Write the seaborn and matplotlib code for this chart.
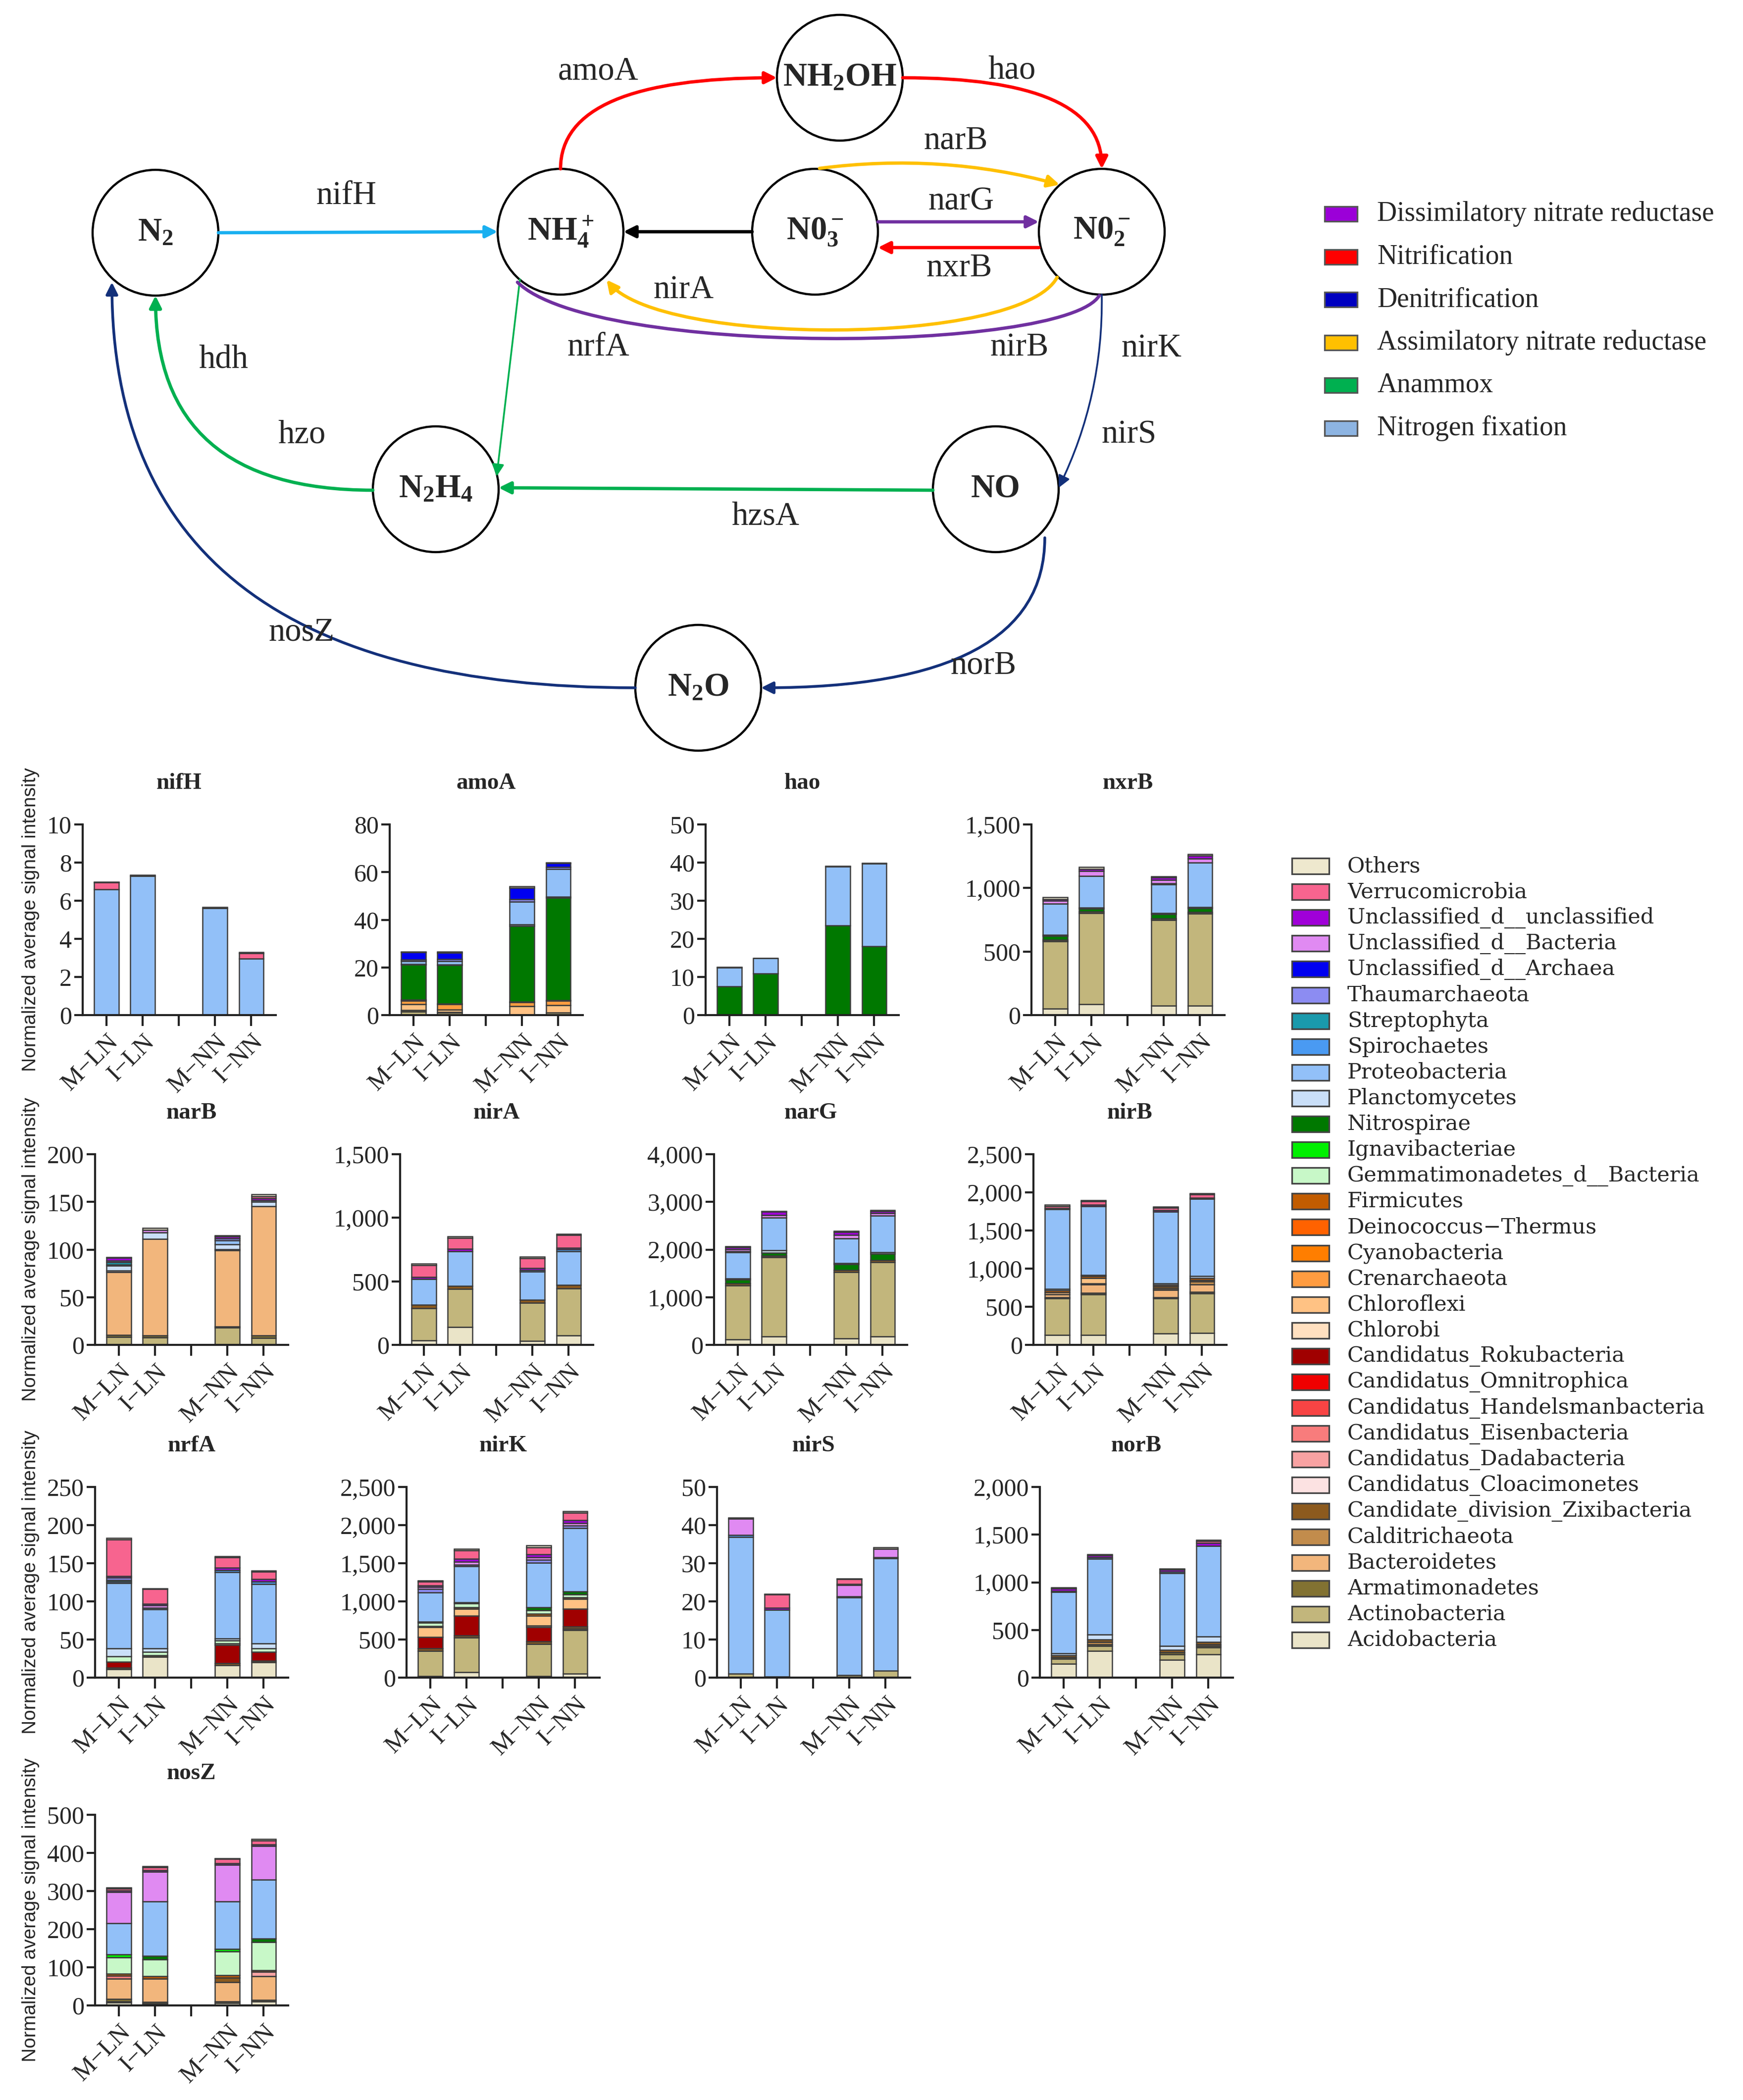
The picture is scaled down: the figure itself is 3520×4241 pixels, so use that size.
import pandas as pd
import matplotlib
matplotlib.use('Agg')
import matplotlib.pyplot as plt
import seaborn as sns
from matplotlib.patches import Circle, FancyArrowPatch, Rectangle
from matplotlib.path import Path
from matplotlib.ticker import FuncFormatter, MultipleLocator

# sample groups, the empty slot is the gap between LN and NN
groups = ['M\u2212LN', 'I\u2212LN', '', 'M\u2212NN', 'I\u2212NN']
group_pos = [0, 1, 3, 4]

# phyla in legend order (first = top of the stack)
phyla = ['Others', 'Verrucomicrobia', 'Unclassified_d__unclassified', 'Unclassified_d__Bacteria',
         'Unclassified_d__Archaea', 'Thaumarchaeota', 'Streptophyta', 'Spirochaetes', 'Proteobacteria',
         'Planctomycetes', 'Nitrospirae', 'Ignavibacteriae', 'Gemmatimonadetes_d__Bacteria', 'Firmicutes',
         'Deinococcus\u2212Thermus', 'Cyanobacteria', 'Crenarchaeota', 'Chloroflexi', 'Chlorobi',
         'Candidatus_Rokubacteria', 'Candidatus_Omnitrophica', 'Candidatus_Handelsmanbacteria',
         'Candidatus_Eisenbacteria', 'Candidatus_Dadabacteria', 'Candidatus_Cloacimonetes',
         'Candidate_division_Zixibacteria', 'Calditrichaeota', 'Bacteroidetes', 'Armatimonadetes',
         'Actinobacteria', 'Acidobacteria']
phylum_colors = ['#EEE8CE', '#F7648F', '#A000D8', '#E08AF2', '#0000F0', '#8C8CF2', '#1A9AAC', '#4A9AF2',
                 '#92C0F8', '#CADFF8', '#007800', '#00F000', '#C8F8C8', '#C25C00', '#FF6200', '#FF7E00',
                 '#FF9C40', '#FFC284', '#FFE0C0', '#A00000', '#F00000', '#F84444', '#F87C7C', '#F8A2A2',
                 '#FCE2E2', '#8C5A1E', '#C28C4C', '#F2B67C', '#827232', '#C2B67C', '#EAE4C8']

pathways = ['Dissimilatory nitrate reductase', 'Nitrification', 'Denitrification',
            'Assimilatory nitrate reductase', 'Anammox', 'Nitrogen fixation']
pathway_colors = ['#9B00D8', '#FF0000', '#0000C0', '#FFC000', '#00B050', '#8DB4E2']

# values per phylum: M-LN, I-LN, M-NN, I-NN
nifH = {'Proteobacteria': [6.6, 7.3, 5.6, 2.95], 'Verrucomicrobia': [0.35, 0, 0, 0.3],
        'Others': [0.05, 0.05, 0.05, 0.05]}
amoA = {'Actinobacteria': [1.5, 1.0, 0, 1.0], 'Armatimonadetes': [0.5, 0.3, 0, 0],
        'Chloroflexi': [2.5, 1.0, 3.8, 3.2], 'Crenarchaeota': [1.5, 2.2, 1.5, 1.8],
        'Firmicutes': [0.4, 0.3, 0.3, 0.2], 'Nitrospirae': [14.8, 16.1, 31.9, 43.1],
        'Planctomycetes': [0.3, 0.3, 0.5, 0.4], 'Proteobacteria': [1.2, 1.5, 9.5, 11.5],
        'Thaumarchaeota': [0.6, 0.7, 1.2, 0.9], 'Unclassified_d__Archaea': [3.0, 2.8, 4.8, 1.6],
        'Others': [0.2, 0.3, 0.5, 0.3]}
hao = {'Nitrospirae': [7.5, 10.9, 23.5, 18.0], 'Proteobacteria': [5.0, 4.0, 15.4, 21.7],
       'Others': [0.1, 0.1, 0.2, 0.2]}
nxrB = {'Acidobacteria': [50, 87, 73, 73], 'Actinobacteria': [530, 716, 674, 725],
        'Armatimonadetes': [12, 10, 12, 12], 'Nitrospirae': [30, 25, 35, 30],
        'Planctomycetes': [8, 8, 10, 10], 'Proteobacteria': [245, 247, 225, 350],
        'Streptophyta': [0, 0, 8, 0], 'Unclassified_d__Bacteria': [25, 40, 25, 30],
        'Unclassified_d__unclassified': [12, 18, 20, 25], 'Others': [16, 15, 10, 10]}
narB = {'Actinobacteria': [8.5, 8.0, 18.2, 7.4], 'Armatimonadetes': [2.0, 1.7, 0.8, 2.3],
        'Bacteroidetes': [66, 101.5, 80, 136], 'Calditrichaeota': [0, 0, 1.5, 0],
        'Candidatus_Cloacimonetes': [1.5, 0, 0, 0], 'Planctomycetes': [5, 6.5, 5, 4.5],
        'Proteobacteria': [1.0, 0, 4, 1.5], 'Streptophyta': [3.0, 0, 0, 0],
        'Thaumarchaeota': [1.5, 0, 2, 0], 'Unclassified_d__Bacteria': [0, 3.0, 0, 0],
        'Unclassified_d__unclassified': [3.0, 0, 2.5, 2.2], 'Verrucomicrobia': [0, 0, 0, 2],
        'Others': [0.5, 2.0, 1.0, 2.0]}
nirA = {'Acidobacteria': [35, 140, 30, 75], 'Actinobacteria': [255, 300, 300, 370],
        'Candidate_division_Zixibacteria': [25, 25, 25, 25], 'Proteobacteria': [205, 273, 220, 267],
        'Spirochaetes': [0, 0, 15, 15], 'Unclassified_d__unclassified': [15, 17, 15, 12],
        'Verrucomicrobia': [93, 88, 78, 100], 'Others': [12, 10, 9, 8]}
narG = {'Acidobacteria': [110, 175, 140, 175], 'Actinobacteria': [1140, 1660, 1390, 1565],
        'Candidate_division_Zixibacteria': [40, 35, 40, 35], 'Nitrospirae': [80, 65, 125, 140],
        'Planctomycetes': [20, 45, 20, 30], 'Proteobacteria': [550, 690, 520, 765],
        'Thaumarchaeota': [20, 5, 0, 0], 'Unclassified_d__Bacteria': [50, 45, 75, 50],
        'Unclassified_d__unclassified': [40, 70, 60, 50], 'Others': [20, 20, 20, 20]}
nirB = {'Acidobacteria': [130, 130, 150, 158], 'Actinobacteria': [480, 535, 460, 520],
        'Armatimonadetes': [15, 15, 15, 15], 'Bacteroidetes': [40, 110, 95, 100],
        'Calditrichaeota': [0, 15, 20, 40], 'Candidate_division_Zixibacteria': [0, 0, 25, 20],
        'Chloroflexi': [25, 70, 0, 0], 'Firmicutes': [25, 25, 20, 25],
        'Planctomycetes': [20, 15, 20, 25], 'Proteobacteria': [1045, 900, 945, 1010],
        'Spirochaetes': [15, 0, 0, 0], 'Unclassified_d__unclassified': [0, 20, 15, 15],
        'Verrucomicrobia': [25, 45, 35, 45], 'Others': [20, 15, 10, 17]}
nrfA = {'Acidobacteria': [11, 27, 16, 20], 'Candidate_division_Zixibacteria': [2, 2.5, 3, 2],
        'Candidatus_Rokubacteria': [8, 0, 24, 12], 'Chlorobi': [0, 0, 1.5, 0],
        'Gemmatimonadetes_d__Bacteria': [7, 4, 4, 4], 'Planctomycetes': [10, 5, 2.5, 7],
        'Proteobacteria': [86, 51, 87, 78], 'Spirochaetes': [2, 2, 3, 3], 'Streptophyta': [2, 0, 0, 0],
        'Thaumarchaeota': [3, 0, 0, 0], 'Unclassified_d__Bacteria': [0, 3.5, 0, 0],
        'Unclassified_d__unclassified': [2, 2, 3, 3], 'Verrucomicrobia': [48, 19, 14, 10],
        'Others': [2, 1, 1, 1]}
nirK = {'Acidobacteria': [20, 70, 20, 50], 'Actinobacteria': [330, 455, 420, 575],
        'Armatimonadetes': [0, 0, 0, 20], 'Candidate_division_Zixibacteria': [30, 25, 35, 25],
        'Candidatus_Rokubacteria': [150, 260, 190, 230], 'Chlorobi': [0, 0, 20, 0],
        'Chloroflexi': [130, 95, 125, 130], 'Firmicutes': [15, 20, 25, 20],
        'Gemmatimonadetes_d__Bacteria': [45, 50, 50, 40], 'Nitrospirae': [0, 0, 35, 40],
        'Planctomycetes': [15, 15, 0, 0], 'Proteobacteria': [385, 470, 585, 830],
        'Thaumarchaeota': [40, 20, 40, 35], 'Unclassified_d__Bacteria': [30, 40, 35, 30],
        'Unclassified_d__unclassified': [20, 40, 40, 40], 'Verrucomicrobia': [50, 110, 85, 100],
        'Others': [15, 20, 30, 15]}
nirS = {'Actinobacteria': [1.0, 0.3, 0.6, 1.8], 'Proteobacteria': [35.9, 17.5, 20.4, 29.5],
        'Spirochaetes': [0.5, 0, 0.3, 0.3], 'Unclassified_d__Bacteria': [4.3, 0, 3.0, 2.2],
        'Unclassified_d__unclassified': [0, 0.5, 0.3, 0], 'Verrucomicrobia': [0, 3.5, 1.2, 0],
        'Others': [0.3, 0.2, 0.2, 0.4]}
norB = {'Acidobacteria': [145, 280, 185, 245], 'Actinobacteria': [50, 55, 60, 70],
        'Armatimonadetes': [20, 15, 20, 20], 'Calditrichaeota': [0, 25, 0, 15],
        'Candidate_division_Zixibacteria': [20, 25, 25, 25], 'Planctomycetes': [20, 50, 45, 55],
        'Proteobacteria': [645, 795, 760, 950], 'Spirochaetes': [10, 15, 15, 0],
        'Unclassified_d__unclassified': [25, 25, 25, 35], 'Verrucomicrobia': [0, 0, 5, 20],
        'Others': [10, 10, 5, 10]}
nosZ = {'Acidobacteria': [8, 5, 6, 11], 'Actinobacteria': [3, 0, 0, 0], 'Armatimonadetes': [6, 4, 5, 3],
        'Bacteroidetes': [53, 61, 50, 62], 'Candidate_division_Zixibacteria': [0, 0, 12, 0],
        'Candidatus_Dadabacteria': [0, 0, 0, 12], 'Candidatus_Eisenbacteria': [8, 0, 0, 0],
        'Firmicutes': [5, 6, 6, 4], 'Gemmatimonadetes_d__Bacteria': [43, 45, 63, 74],
        'Ignavibacteriae': [8, 0, 6, 0], 'Nitrospirae': [0, 9, 0, 9],
        'Proteobacteria': [82, 143, 125, 155], 'Unclassified_d__Bacteria': [82, 78, 96, 88],
        'Unclassified_d__unclassified': [3, 4, 4, 4], 'Verrucomicrobia': [6, 7, 11, 11],
        'Others': [2, 3, 2, 3]}

gene_data = {'nifH': nifH, 'amoA': amoA, 'hao': hao, 'nxrB': nxrB, 'narB': narB, 'nirA': nirA,
             'narG': narG, 'nirB': nirB, 'nrfA': nrfA, 'nirK': nirK, 'nirS': nirS, 'norB': norB,
             'nosZ': nosZ}
# y axis max and tick step
y_axis = {'nifH': (10, 2), 'amoA': (80, 20), 'hao': (50, 10), 'nxrB': (1500, 500), 'narB': (200, 50),
          'nirA': (1500, 500), 'narG': (4000, 1000), 'nirB': (2500, 500), 'nrfA': (250, 50),
          'nirK': (2500, 500), 'nirS': (50, 10), 'norB': (2000, 500), 'nosZ': (500, 100)}

# --- layout (pixels of the 3520 x 4241 canvas) ---
W, H = 3520, 4241
grid = [['nifH', 'amoA', 'hao', 'nxrB'], ['narB', 'nirA', 'narG', 'nirB'],
        ['nrfA', 'nirK', 'nirS', 'norB'], ['nosZ']]
row_top = [1665, 2331, 3003, 3665]
col_left = [[167, 787, 1425, 2083], [192, 808, 1442, 2087], [192, 821, 1448, 2100], [192]]
panel_w, panel_h = 390, 385

sns.set_style('ticks')
plt.rcParams['font.family'] = ['Liberation Serif', 'DejaVu Serif']
plt.rcParams['mathtext.fontset'] = 'custom'
plt.rcParams['mathtext.rm'] = 'Liberation Serif:bold'
plt.rcParams['mathtext.it'] = 'Liberation Serif:bold'
plt.rcParams['mathtext.bf'] = 'Liberation Serif:bold'

fig = plt.figure(figsize=(17.6, 21.205), dpi=200)

# ---------------- nitrogen cycle diagram ----------------
ax_d = fig.add_axes([0, 0, 1, 1])
ax_d.set_xlim(0, W)
ax_d.set_ylim(H, 0)
ax_d.axis('off')

node_xy = {'N2': (314, 470), 'NH4': (1132, 468), 'NH2OH': (1696, 157), 'NO3': (1646, 468),
           'NO2': (2225, 468), 'N2H4': (880, 988), 'NO': (2011, 988), 'N2O': (1410, 1389)}
node_text = {'N2': r'N$_2$', 'NH4': r'NH$_4^+$', 'NH2OH': r'NH$_2$OH', 'NO3': r'N0$_3^-$',
             'NO2': r'N0$_2^-$', 'N2H4': r'N$_2$H$_4$', 'NO': 'NO', 'N2O': r'N$_2$O'}
navy = '#13307A'
arrows = [
    ((441, 470), (1005, 468), '#1AB0F0', 'arc3,rad=0', True, 2.4),
    ((1132, 341), (1569, 157), '#FF0000', 'angle3,angleA=90,angleB=0', True, 2.4),
    ((1823, 157), (2225, 341), '#FF0000', 'angle3,angleA=0,angleB=90', True, 2.4),
    ((1655, 340), (2140, 373), '#FFC000', 'arc3,rad=-0.1', True, 2.4),
    ((1773, 448), (2098, 448), '#7030A0', 'arc3,rad=0', True, 2.4),
    ((2098, 500), (1773, 500), '#FF0000', 'arc3,rad=0', True, 2.4),
    ((1519, 468), (1259, 468), '#000000', 'arc3,rad=0', True, 2.4),
    ((1050, 564), (1003, 962), '#00B050', 'arc3,rad=0', True, 1.3),
    ((1884, 990), (1007, 985), '#00B050', 'arc3,rad=0', True, 2.4),
    ((753, 990), (314, 597), '#00B050', 'angle3,angleA=180,angleB=90', True, 2.4),
    ((2225, 595), (2138, 985), navy, 'arc3,rad=-0.12', True, 1.3),
    ((2110, 1086), (1537, 1389), navy, 'angle3,angleA=-90,angleB=0', True, 2.0),
    ((1283, 1389), (226, 570), navy, 'angle3,angleA=180,angleB=90', True, 2.0),
]
for a, b, c, cs, head, lw in arrows:
    style = '-|>' if head else '-'
    ax_d.add_patch(FancyArrowPatch(a, b, connectionstyle=cs, arrowstyle=style, mutation_scale=18,
                                   color=c, lw=lw, shrinkA=0, shrinkB=0, zorder=3))

# U-shaped arcs under NO3- (nirB/nrfA and nirA)
curves = [
    ([(2220, 597), (2150, 712), (1200, 722), (1045, 570)], '#7030A0', '-'),
    ([(2135, 560), (2060, 700), (1330, 700), (1225, 565)], '#FFC000', '-|>'),
]
codes = [Path.MOVETO, Path.CURVE4, Path.CURVE4, Path.CURVE4]
for pts, c, style in curves:
    ax_d.add_patch(FancyArrowPatch(path=Path(pts, codes), arrowstyle=style, mutation_scale=18,
                                   color=c, lw=2.4, zorder=3))

for k, (x, y) in node_xy.items():
    ax_d.add_patch(Circle((x, y), 127, facecolor='white', edgecolor='black', lw=1.6, zorder=2))
    ax_d.text(x, y, node_text[k], ha='center', va='center', fontsize=24, fontweight='bold', zorder=4)

edge_labels = [('amoA', 1208, 144), ('hao', 2043, 142), ('narB', 1930, 284), ('nifH', 700, 395),
               ('narG', 1941, 407), ('nxrB', 1937, 541), ('nirA', 1381, 586), ('nrfA', 1208, 701),
               ('nirB', 2059, 701), ('nirK', 2325, 703), ('hdh', 451, 727), ('hzo', 609, 878),
               ('nirS', 2280, 878), ('hzsA', 1546, 1043), ('nosZ', 609, 1277), ('norB', 1986, 1344)]
for t, x, y in edge_labels:
    ax_d.text(x, y, t, ha='center', va='center', fontsize=24)

# pathway legend
for i, (name, c) in enumerate(zip(pathways, pathway_colors)):
    y = 432 + i * 86.5
    ax_d.add_patch(Rectangle((2675, y - 15), 66, 30, facecolor=c, edgecolor='#555555', lw=1.2))
    ax_d.text(2781, y, name, ha='left', va='center', fontsize=20)

# phylum legend
for i, (name, c) in enumerate(zip(phyla, phylum_colors)):
    y = 1749 + i * 52.1
    ax_d.add_patch(Rectangle((2609, y - 16), 75, 32, facecolor=c, edgecolor='#444444', lw=1.2))
    ax_d.text(2721, y, name, ha='left', va='center', fontsize=15.5, family='DejaVu Serif')

# ---------------- stacked bar panels ----------------
palette = dict(zip(phyla, phylum_colors))
thousands = FuncFormatter(lambda v, p: f'{int(round(v)):,}')

for r, row in enumerate(grid):
    top = row_top[r]
    for c, gene in enumerate(row):
        left = col_left[r][c]
        ax = fig.add_axes([left / W, 1 - (top + panel_h) / H, panel_w / W, panel_h / H])
        ax.set_facecolor('none')
        recs = []
        for phylum, vals in gene_data[gene].items():
            for pos, v in zip(group_pos, vals):
                if v > 0:
                    recs.append((pos, phylum, v))
        df = pd.DataFrame(recs, columns=['pos', 'phylum', 'value'])
        sns.histplot(data=df, x='pos', weights='value', hue='phylum', hue_order=phyla,
                     palette=palette, multiple='stack', discrete=True, shrink=0.68, alpha=1,
                     edgecolor='#3c3c3c', linewidth=0.9, legend=False, ax=ax)
        ymax, step = y_axis[gene]
        ax.set_ylim(0, ymax)
        ax.set_xlim(-0.66, 4.68)
        ax.yaxis.set_major_locator(MultipleLocator(step))
        ax.yaxis.set_major_formatter(thousands)
        ax.set_xticks(range(5))
        ax.set_xticklabels(groups)
        for lab in ax.get_xticklabels():
            lab.set_rotation(45)
            lab.set_ha('right')
            lab.set_va('top')
            lab.set_rotation_mode('anchor')
        ax.set_xlabel('')
        ax.set_ylabel('')
        sns.despine(ax=ax)
        for s in ('left', 'bottom'):
            ax.spines[s].set_linewidth(1.5)
            ax.spines[s].set_color('#222222')
        ax.tick_params(axis='y', length=6, width=1.5, labelsize=18, pad=2, color='#222222')
        ax.tick_params(axis='x', length=8, width=1.5, labelsize=18, pad=3, color='#222222')
        ax.set_title(gene, fontsize=17, fontweight='bold', pad=26)
    fig.text(62 / W, 1 - (top + panel_h / 2) / H, 'Normalized average signal intensity',
             rotation=90, ha='center', va='center', fontsize=14, family='Liberation Sans')

fig.savefig('out.png', dpi=200)
